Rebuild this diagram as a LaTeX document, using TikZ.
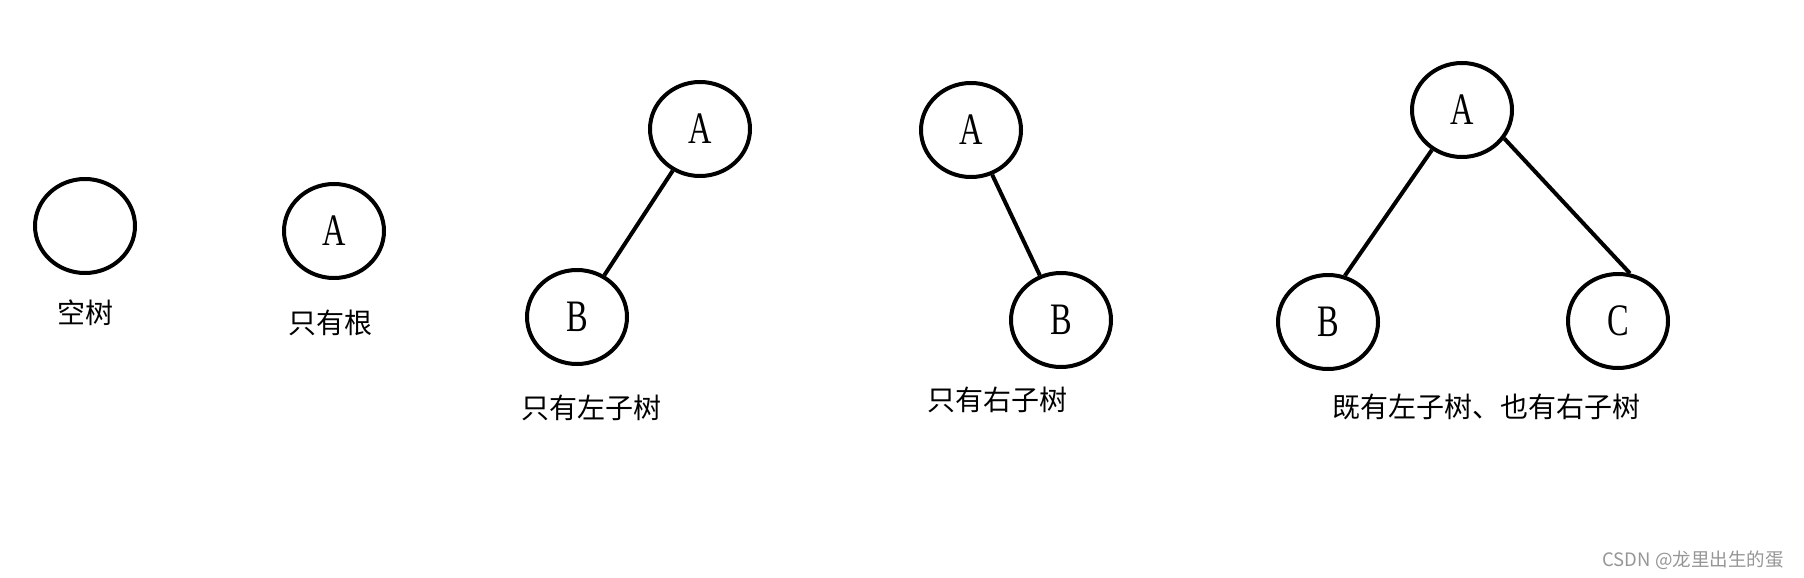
\documentclass[tikz,border=0pt]{standalone}
\usepackage{fontspec}
\usepackage{xcolor}
\usepackage{tikz}
\usetikzlibrary{shapes.geometric}
\newfontfamily\cjkfont{Noto Sans CJK SC}
\newfontfamily\letterfont[FakeStretch=0.72]{Liberation Serif}
\definecolor{markgray}{RGB}{150,150,150}

\tikzset{
  tnode/.style={draw,ellipse,line width=4pt,minimum width=100pt,minimum height=94pt,
    inner sep=0pt,font=\letterfont\fontsize{45}{50}\selectfont},
  tedge/.style={line width=4pt},
  tlabel/.style={font=\cjkfont\fontsize{28}{32}\selectfont}
}

\begin{document}
\begin{tikzpicture}[x=1pt,y=-1pt]
  \useasboundingbox[fill=white] (0,0) rectangle (1804,578);
  % empty tree / root only
  \node[tnode] (e0) at (85,226) {};
  \node[tnode] (r1) at (334,231) {A};
  % left subtree only
  \node[tnode] (la) at (700,129) {A};
  \node[tnode] (lb) at (577,317) {B};
  \draw[tedge] (la) -- (lb);
  % right subtree only
  \node[tnode] (ra) at (971,130) {A};
  \node[tnode] (rb) at (1061,320) {B};
  \draw[tedge] (ra) -- (rb);
  % both subtrees
  \node[tnode] (fa) at (1462,110) {A};
  \node[tnode] (fb) at (1328,322) {B};
  \node[tnode] (fc) at (1618,321) {C};
  \draw[tedge] (fa.-127) -- (fb.70);
  \draw[tedge] (fa.-34) -- (fc.76);
  % captions
  \foreach \x/\y/\t/\n in {85/313/空树/c0, 330/323/只有根/c1, 591/408/只有左子树/c2,
      997/400/只有右子树/c3, 1486/407/既有左子树、也有右子树/c4}
    \node[tlabel] (\n) at (\x,\y) {\t};
  \node[font=\cjkfont\fontsize{18.5}{22}\selectfont,text=markgray] (wm) at (1693,560)
     {CSDN @龙里出生的蛋};
\end{tikzpicture}
\end{document}
